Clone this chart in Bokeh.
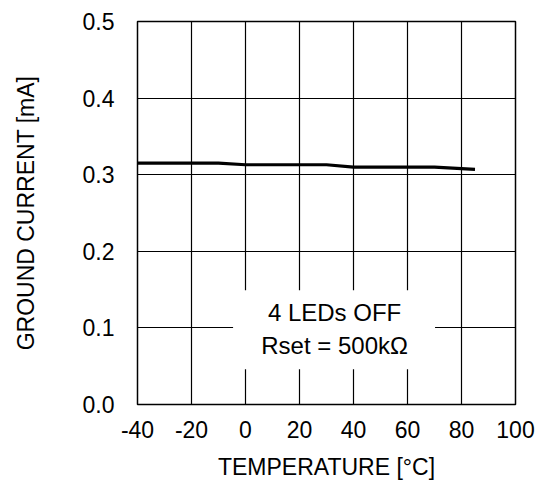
from bokeh.plotting import figure
from bokeh.models import Range1d, FixedTicker, PrintfTickFormatter, BoxAnnotation, Label
from bokeh.embed import file_html
from bokeh.resources import INLINE

# Data
temperature = [-40, -10, 0, 30, 40, 70, 85]
ground_current = [0.315, 0.315, 0.313, 0.313, 0.310, 0.310, 0.307]

x_ticks = [-40, -20, 0, 20, 40, 60, 80, 100]
x_tick_labels = ["-40", "-20", "0", "20", "40", "60", "80", "100"]
y_ticks = [0.0, 0.1, 0.2, 0.3, 0.4, 0.5]

note_lines = ["4 LEDs OFF", "Rset = 500k\u03a9"]
note_x = 33
note_y = [0.12, 0.077]
note_box = dict(left=-4.6, right=70.2, bottom=0.046, top=0.149)

FONT = "Liberation Sans"

p = figure(
    output_backend="svg", toolbar_location=None,
    frame_width=378, frame_height=383,
    min_border_left=137, min_border_right=20, min_border_top=21, min_border_bottom=69,
    x_range=Range1d(-40, 100), y_range=Range1d(0, 0.5),
    background_fill_color="white", border_fill_color="white",
)

p.outline_line_color = "black"
p.outline_line_width = 1.5
p.outline_line_alpha = 1

for g in (p.xgrid, p.ygrid):
    g.grid_line_color = "black"
    g.grid_line_width = 1.2
    g.grid_line_alpha = 1

p.xaxis.ticker = FixedTicker(ticks=x_ticks)
p.yaxis.ticker = FixedTicker(ticks=y_ticks)
p.yaxis.formatter = PrintfTickFormatter(format="%.1f")
p.xaxis.major_label_overrides = dict(zip(x_ticks, x_tick_labels))
p.xgrid.ticker = p.xaxis.ticker
p.ygrid.ticker = p.yaxis.ticker

for ax in (p.xaxis, p.yaxis):
    ax.axis_line_color = None
    ax.major_tick_line_color = None
    ax.minor_tick_line_color = None
    ax.major_label_text_font = FONT
    ax.major_label_text_font_size = "23px"
    ax.major_label_text_color = "black"
    ax.axis_label_text_font = FONT
    ax.axis_label_text_font_size = "23px"
    ax.axis_label_text_font_style = "normal"
    ax.axis_label_text_color = "black"

p.xaxis.axis_label = "TEMPERATURE [\u00b0C]"
p.yaxis.axis_label = "GROUND CURRENT [mA]"
p.xaxis.major_label_standoff = 10
p.yaxis.major_label_standoff = 17
p.xaxis.axis_label_standoff = 13
p.yaxis.axis_label_standoff = 41

p.line(temperature, ground_current, line_color="black", line_width=3.2)

p.add_layout(BoxAnnotation(**note_box, fill_color="white", fill_alpha=1, line_alpha=0))
for txt, yy in zip(note_lines, note_y):
    p.add_layout(Label(x=note_x, y=yy, text=txt, text_align="center", text_baseline="middle",
                       text_font=FONT, text_font_size="24px", text_color="black"))

open("out.html", "w").write(file_html(p, INLINE))
